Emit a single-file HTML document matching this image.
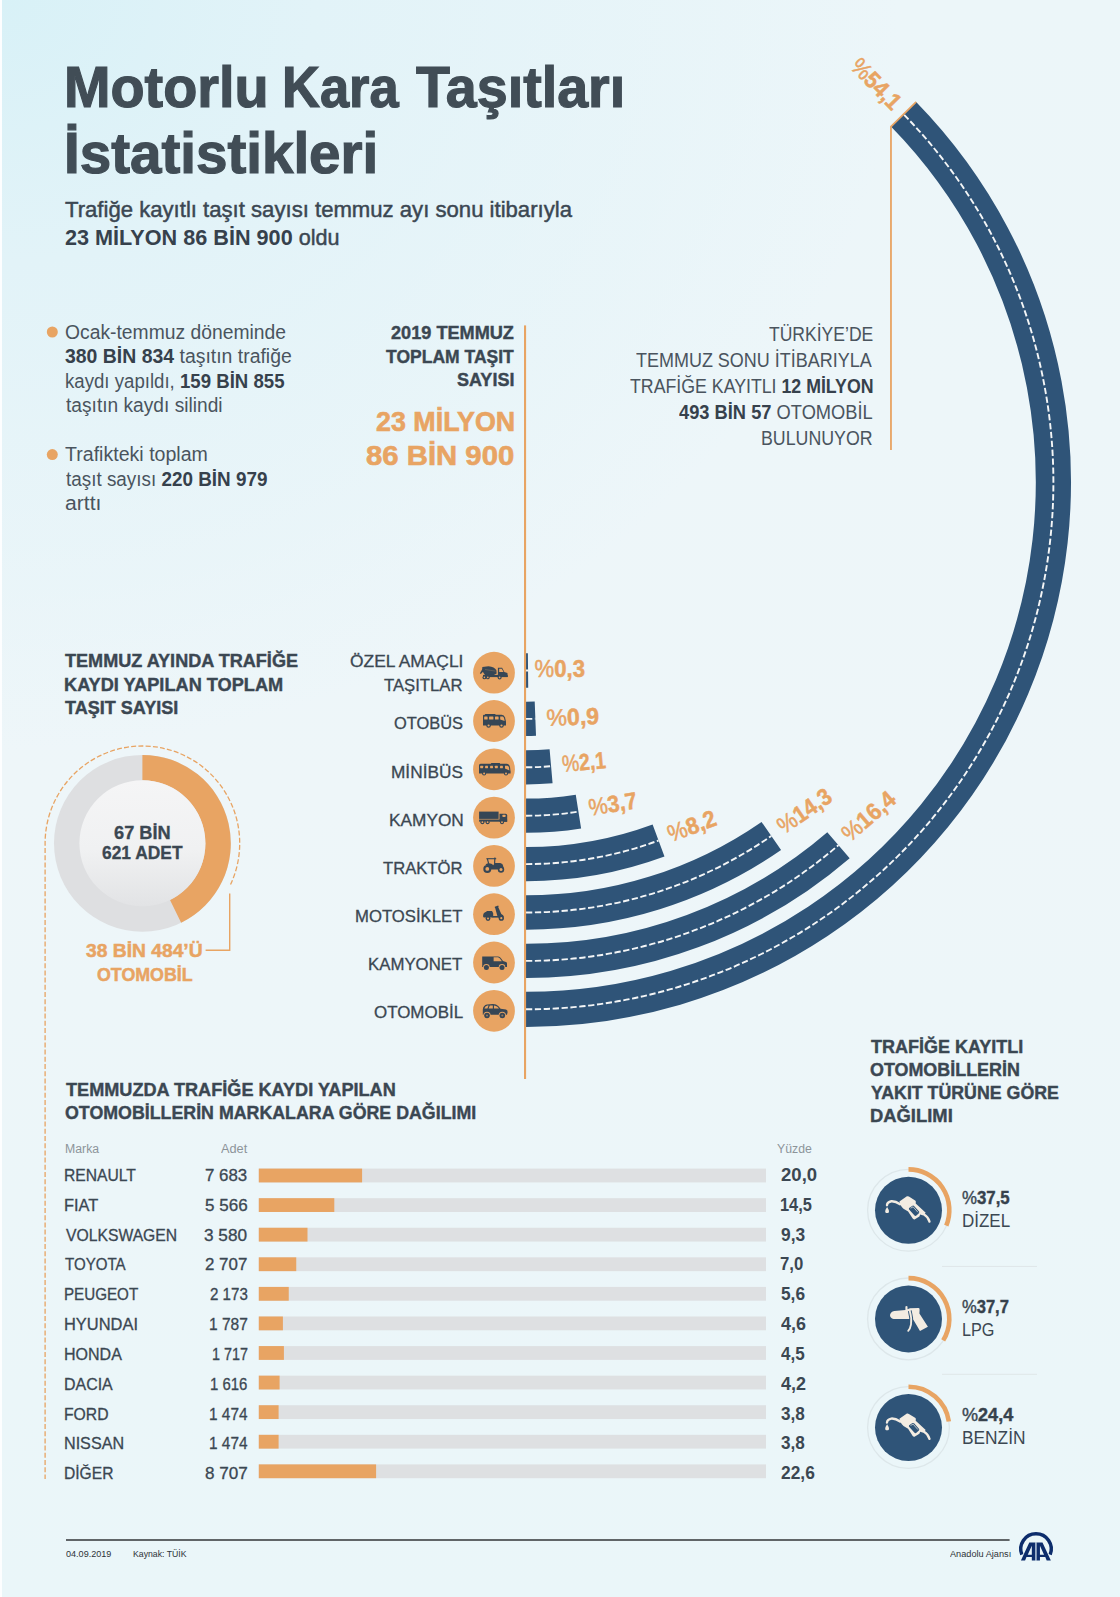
<!DOCTYPE html>
<html lang="tr">
<head>
<meta charset="utf-8">
<title>Motorlu Kara Taşıtları İstatistikleri</title>
<style>
html,body{margin:0;padding:0;}
body{width:1120px;height:1597px;position:relative;overflow:hidden;
font-family:"Liberation Sans",sans-serif;
background:radial-gradient(ellipse 900px 750px at 0 0,#d8f1f7 0%,#e2f3f8 35%,rgba(236,246,249,0) 100%),linear-gradient(180deg,#ecf6f9 0%,#eef6f9 50%,#eaf6f9 100%);}
#edge{position:absolute;left:0;top:0;width:1.5px;height:1597px;background:#fdfeff;}
svg#g{position:absolute;left:0;top:0;}
.t{position:absolute;white-space:pre;line-height:1;transform-origin:0 0;}
.t b{font-weight:bold;}
.m b{color:#36414c;}
</style>
</head>
<body>
<div id="edge"></div>
<svg id="g" width="1120" height="1597" viewBox="0 0 1120 1597">
<path d="M526.00 670.50L526.40 670.50A188.20 188.20 0 0 0 528.04 670.49" fill="none" stroke="#2f5478" stroke-width="34.3"/>
<path d="M526.00 670.50L526.40 670.50A188.20 188.20 0 0 0 528.04 670.49" fill="none" stroke="#f4f6f7" stroke-width="1.9" stroke-dasharray="6.3 2.6"/>
<path d="M526.00 718.90L526.40 718.90A236.60 236.60 0 0 0 535.36 718.73" fill="none" stroke="#2f5478" stroke-width="34.3"/>
<path d="M526.00 718.90L526.40 718.90A236.60 236.60 0 0 0 535.36 718.73" fill="none" stroke="#f4f6f7" stroke-width="1.9" stroke-dasharray="6.3 2.6"/>
<path d="M526.00 767.30L526.40 767.30A285.00 285.00 0 0 0 551.09 766.23" fill="none" stroke="#2f5478" stroke-width="34.3"/>
<path d="M526.00 767.30L526.40 767.30A285.00 285.00 0 0 0 551.09 766.23" fill="none" stroke="#f4f6f7" stroke-width="1.9" stroke-dasharray="6.3 2.6"/>
<path d="M526.00 815.70L526.40 815.70A333.40 333.40 0 0 0 578.44 811.61" fill="none" stroke="#2f5478" stroke-width="34.3"/>
<path d="M526.00 815.70L526.40 815.70A333.40 333.40 0 0 0 578.44 811.61" fill="none" stroke="#f4f6f7" stroke-width="1.9" stroke-dasharray="6.3 2.6"/>
<path d="M526.00 864.10L526.40 864.10A381.80 381.80 0 0 0 658.55 840.50" fill="none" stroke="#2f5478" stroke-width="34.3"/>
<path d="M526.00 864.10L526.40 864.10A381.80 381.80 0 0 0 658.55 840.50" fill="none" stroke="#f4f6f7" stroke-width="1.9" stroke-dasharray="6.3 2.6"/>
<path d="M526.00 912.50L526.40 912.50A430.20 430.20 0 0 0 771.30 835.99" fill="none" stroke="#2f5478" stroke-width="34.3"/>
<path d="M526.00 912.50L526.40 912.50A430.20 430.20 0 0 0 771.30 835.99" fill="none" stroke="#f4f6f7" stroke-width="1.9" stroke-dasharray="6.3 2.6"/>
<path d="M526.00 960.90L526.40 960.90A478.60 478.60 0 0 0 838.49 845.14" fill="none" stroke="#2f5478" stroke-width="34.3"/>
<path d="M526.00 960.90L526.40 960.90A478.60 478.60 0 0 0 838.49 845.14" fill="none" stroke="#f4f6f7" stroke-width="1.9" stroke-dasharray="6.3 2.6"/>
<path d="M526.00 1009.30L526.40 1009.30A527.00 527.00 0 0 0 903.57 114.24" fill="none" stroke="#2f5478" stroke-width="35.2"/>
<path d="M526.00 1009.30L526.40 1009.30A527.00 527.00 0 0 0 903.57 114.24" fill="none" stroke="#f4f6f7" stroke-width="1.9" stroke-dasharray="6.3 2.6"/>
<path d="M890.97 450L890.97 126.53L916.17 101.94" fill="none" stroke="#e8a463" stroke-width="1.8" stroke-linejoin="miter"/>
<rect x="524" y="325.4" width="2.1" height="753.6" fill="#e8a463"/>
<circle cx="494.0" cy="672.7" r="20.9" fill="#e8a463"/>
<circle cx="494.0" cy="721.0" r="20.9" fill="#e8a463"/>
<circle cx="494.0" cy="769.3" r="20.9" fill="#e8a463"/>
<circle cx="494.0" cy="817.6" r="20.9" fill="#e8a463"/>
<circle cx="494.0" cy="865.9" r="20.9" fill="#e8a463"/>
<circle cx="494.0" cy="914.2" r="20.9" fill="#e8a463"/>
<circle cx="494.0" cy="962.5" r="20.9" fill="#e8a463"/>
<circle cx="494.0" cy="1010.8" r="20.9" fill="#e8a463"/>
<circle cx="52.3" cy="332" r="5.5" fill="#e8a463"/>
<circle cx="52.3" cy="454.6" r="5.5" fill="#e8a463"/>
<defs><linearGradient id="dg" x1="0" y1="0" x2="0" y2="1"><stop offset="0" stop-color="#f5f5f6"/><stop offset="0.55" stop-color="#f0f1f2"/><stop offset="1" stop-color="#e2e3e5"/></linearGradient></defs>
<circle cx="142.4" cy="843.3" r="88.4" fill="#dedfe1"/>
<path d="M142.4 754.9A88.4 88.4 0 0 1 181.15 922.75L170.02 899.92A63.0 63.0 0 0 0 142.4 780.3Z" fill="#e8a463"/>
<circle cx="142.4" cy="843.3" r="63.0" fill="url(#dg)"/>
<path d="M230.51 884.57A97.3 97.3 0 1 0 45.10 843.3L45.10 1479" fill="none" stroke="#e8a463" stroke-width="1.3" stroke-dasharray="5 2.2"/>
<path d="M229.7 893.4V950.3H205.6" fill="none" stroke="#e8a463" stroke-width="1.4"/>
<rect x="258.8" y="1168.60" width="507.2" height="13.8" fill="#dee0e2"/>
<rect x="258.8" y="1168.60" width="103.30" height="13.8" fill="#e8a463"/>
<rect x="258.8" y="1198.18" width="507.2" height="13.8" fill="#dee0e2"/>
<rect x="258.8" y="1198.18" width="75.50" height="13.8" fill="#e8a463"/>
<rect x="258.8" y="1227.76" width="507.2" height="13.8" fill="#dee0e2"/>
<rect x="258.8" y="1227.76" width="48.70" height="13.8" fill="#e8a463"/>
<rect x="258.8" y="1257.34" width="507.2" height="13.8" fill="#dee0e2"/>
<rect x="258.8" y="1257.34" width="37.45" height="13.8" fill="#e8a463"/>
<rect x="258.8" y="1286.92" width="507.2" height="13.8" fill="#dee0e2"/>
<rect x="258.8" y="1286.92" width="29.95" height="13.8" fill="#e8a463"/>
<rect x="258.8" y="1316.50" width="507.2" height="13.8" fill="#dee0e2"/>
<rect x="258.8" y="1316.50" width="24.10" height="13.8" fill="#e8a463"/>
<rect x="258.8" y="1346.08" width="507.2" height="13.8" fill="#dee0e2"/>
<rect x="258.8" y="1346.08" width="25.10" height="13.8" fill="#e8a463"/>
<rect x="258.8" y="1375.66" width="507.2" height="13.8" fill="#dee0e2"/>
<rect x="258.8" y="1375.66" width="20.80" height="13.8" fill="#e8a463"/>
<rect x="258.8" y="1405.24" width="507.2" height="13.8" fill="#dee0e2"/>
<rect x="258.8" y="1405.24" width="19.80" height="13.8" fill="#e8a463"/>
<rect x="258.8" y="1434.82" width="507.2" height="13.8" fill="#dee0e2"/>
<rect x="258.8" y="1434.82" width="19.80" height="13.8" fill="#e8a463"/>
<rect x="258.8" y="1464.40" width="507.2" height="13.8" fill="#dee0e2"/>
<rect x="258.8" y="1464.40" width="117.30" height="13.8" fill="#e8a463"/>
<circle cx="908.5" cy="1210.2" r="40.9" fill="none" stroke="#dde7ea" stroke-width="1.3"/>
<circle cx="908.5" cy="1210.2" r="33.5" fill="#2f5478"/>
<path d="M908.5 1169.40A40.8 40.8 0 0 1 946.28 1225.62" fill="none" stroke="#e8a463" stroke-width="4.6"/>
<circle cx="908.5" cy="1318.9" r="40.9" fill="none" stroke="#dde7ea" stroke-width="1.3"/>
<circle cx="908.5" cy="1318.9" r="33.5" fill="#2f5478"/>
<path d="M908.5 1278.10A40.8 40.8 0 0 1 943.18 1340.40" fill="none" stroke="#e8a463" stroke-width="4.6"/>
<circle cx="908.5" cy="1427.5" r="40.9" fill="none" stroke="#dde7ea" stroke-width="1.3"/>
<circle cx="908.5" cy="1427.5" r="33.5" fill="#2f5478"/>
<path d="M908.5 1386.70A40.8 40.8 0 0 1 948.85 1421.47" fill="none" stroke="#e8a463" stroke-width="4.6"/>
<rect x="942" y="1265.9" width="95" height="1" fill="#dfe6e8"/>
<rect x="942" y="1373.8" width="95" height="1" fill="#dfe6e8"/>
<rect x="66" y="1539.3" width="943.6" height="1.4" fill="#26292c"/>
<g transform="translate(494.0 672.7)"><path d="M-11.7 -5.7L-5.5 -6.5Q0.6 -5.8 2.3 -2.6L2.7 0.8L-0.6 2.6L-8.8 2.6Q-12.3 -1 -11.7 -5.7Z" fill="#364655"/><path d="M-11.3 -4.2L-14.1 0.6L-13.2 1.3L-10 -2Z" fill="#364655"/><rect x="-11" y="2.2" width="24.6" height="2.2" fill="#364655"/><path d="M3.9 -4.9H8.1L10.4 -0.6L13.4 0.4L13.8 4.4H3.9Z" fill="#364655"/><path d="M5.2 -4H7.7L9.6 -0.6H5.2Z" fill="#e8a463"/><path d="M-9 -3.2L1.5 -1.6" stroke="#e8a463" stroke-width=".5" opacity=".5"/><circle cx="-9.6" cy="4.7" r="1.9" fill="#364655"/><circle cx="-9.6" cy="4.7" r="0.80" fill="#e8a463"/><circle cx="-6.2" cy="4.7" r="1.9" fill="#364655"/><circle cx="-6.2" cy="4.7" r="0.80" fill="#e8a463"/><circle cx="5.6" cy="4.7" r="2.0" fill="#364655"/><circle cx="5.6" cy="4.7" r="0.84" fill="#e8a463"/></g>
<g transform="translate(494.0 721.0)"><rect x="-9" y="-7" width="10.5" height="1.4" rx=".5" fill="#364655"/><path d="M-11 -5.2Q-11 -6.2 -10 -6.2H7.6Q10.2 -6.2 11 -3.6L12 0.6V4.4H-11Z" fill="#364655"/><rect x="-9.8" y="-4.5" width="3.4" height="3.1" rx=".4" fill="#e8a463"/><rect x="-4.9" y="-4.5" width="4.3" height="3.1" rx=".4" fill="#e8a463"/><rect x="1" y="-4.5" width="3.6" height="3.1" rx=".4" fill="#e8a463"/><path d="M6.2 -4.5H8.6Q9.6 -4.3 10 -3L10.7 0L6.2 -1.4Z" fill="#e8a463"/><circle cx="-5.4" cy="4.5" r="2.3" fill="#364655"/><circle cx="-5.4" cy="4.5" r="1.10" fill="#e8a463"/><circle cx="7.5" cy="4.5" r="2.3" fill="#364655"/><circle cx="7.5" cy="4.5" r="1.10" fill="#e8a463"/></g>
<g transform="translate(494.0 769.3)"><rect x="-3" y="-6.2" width="9" height="1.2" rx=".4" fill="#364655"/><path d="M-15 -3.9Q-15 -5.5 -13.4 -5.5H12.6Q15.4 -5.3 16 -2.4L16.6 2.2V4.3H-15Z" fill="#364655"/><rect x="-13.8" y="-3.5" width="2.9" height="2.4" rx=".4" fill="#e8a463"/><rect x="-8.9" y="-3.5" width="2.9" height="2.4" rx=".4" fill="#e8a463"/><rect x="-3.9" y="-3.5" width="2.9" height="2.4" rx=".4" fill="#e8a463"/><rect x="0.9" y="-3.5" width="2.9" height="2.4" rx=".4" fill="#e8a463"/><rect x="6.0" y="-3.5" width="2.9" height="2.4" rx=".4" fill="#e8a463"/><path d="M11 -3.6H13.4Q14.6 -3.4 14.9 -2L15.4 1.2L11 -0.9Z" fill="#e8a463"/><circle cx="-9.9" cy="4.2" r="2.1" fill="#364655"/><circle cx="-9.9" cy="4.2" r="1.00" fill="#e8a463"/><circle cx="12.0" cy="4.2" r="2.1" fill="#364655"/><circle cx="12.0" cy="4.2" r="1.00" fill="#e8a463"/></g>
<g transform="translate(494.0 817.6)"><rect x="-14.9" y="-6" width="19.5" height="7.3" fill="#364655"/><rect x="-14.9" y="1.9" width="28" height="2.2" fill="#364655"/><path d="M5.5 -3.8H11.6Q13.2 -3.6 13.2 -2.2V4.1H5.5Z" fill="#364655"/><rect x="8.5" y="-2.9" width="3" height="2.3" rx=".5" fill="#e8a463"/><circle cx="-11.6" cy="4.6" r="2.0" fill="#364655"/><circle cx="-11.6" cy="4.6" r="0.90" fill="#e8a463"/><circle cx="-6.4" cy="4.6" r="2.0" fill="#364655"/><circle cx="-6.4" cy="4.6" r="0.90" fill="#e8a463"/><circle cx="8.0" cy="4.6" r="2.0" fill="#364655"/><circle cx="8.0" cy="4.6" r="0.90" fill="#e8a463"/></g>
<g transform="translate(494.0 865.9)"><path d="M-7.6 -7.2H2.2" stroke="#364655" stroke-width="1.1" fill="none"/><path d="M-6.6 -7L-5.3 -2M0.9 -8.4L0.6 -2.6" stroke="#364655" stroke-width="1.2" fill="none"/><path d="M-8.5 -1.5Q-6 -3.4 -2.6 -2.2L-0.5 -0.6L0.2 -3H6.2Q9 -2.6 9.2 0L9.4 2.6H-3Z" fill="#364655"/><rect x="-3" y="1" width="9" height="2.6" fill="#364655"/><circle cx="-6.7" cy="3.0" r="4.0" fill="#364655"/><circle cx="-6.7" cy="3.0" r="1.90" fill="#e8a463"/><circle cx="7.0" cy="3.6" r="3.2" fill="#364655"/><circle cx="7.0" cy="3.6" r="1.50" fill="#e8a463"/></g>
<g transform="translate(494.0 914.2)"><path d="M-10.9 1.2Q-10.6 -2.2 -6.6 -2.4H-2.4Q-0.8 -2.2 -0.8 -0.6V3.4H-10.2Q-11.2 2.6 -10.9 1.2Z" fill="#364655"/><rect x="-7.6" y="-3.3" width="6" height="1.2" rx=".5" fill="#364655"/><rect x="-1.5" y="1.8" width="7" height="1.6" fill="#364655"/><path d="M0.8 -7.4L4.2 -8.7L4.7 -7.4L4.2 -7.1L7.3 -0.2Q9.7 0.4 10 3.4H4.2L3.2 1.4L1.2 -6.3L0.9 -6.3Z" fill="#364655"/><circle cx="-6.0" cy="4.4" r="2.4" fill="#364655"/><circle cx="-6.0" cy="4.4" r="1.00" fill="#e8a463"/><circle cx="7.3" cy="4.0" r="2.6" fill="#364655"/><circle cx="7.3" cy="4.0" r="1.10" fill="#e8a463"/></g>
<g transform="translate(494.0 962.5)"><path d="M-11.8 -6.1H4.2Q5.8 -5.9 6.8 -4.6L9 -1.6L12 -0.6Q13 -0.2 13 1V4.6H-11.8Z" fill="#364655"/><path d="M-0.4 -5.2H3.9Q5.1 -5 5.9 -4L7.9 -1.3H-0.4Z" fill="#e8a463"/><circle cx="-7.6" cy="4.8" r="3.3" fill="#e8a463"/><circle cx="8" cy="4.8" r="3.3" fill="#e8a463"/><circle cx="-7.6" cy="4.9" r="2.5" fill="#364655"/><circle cx="8" cy="4.9" r="2.5" fill="#364655"/></g>
<g transform="translate(494.0 1010.8)"><path d="M-11.2 -1.4Q-10.8 -5.6 -7 -6.4L-1 -6.7Q2.4 -6.6 4.2 -4.8L6.6 -2L12 -1.2Q13.8 -0.6 13.6 1.4L13 4H-11.2Z" fill="#364655"/><path d="M-9.6 -2.2Q-9 -4.8 -6.6 -5.3L-5.4 -5.3L-6.6 -2.2Z" fill="#e8a463"/><path d="M-4.2 -5.4H-1.2V-2.2H-5.4Z" fill="#e8a463"/><path d="M0 -5.4Q2.2 -5.2 3.4 -4L5 -2.2H0Z" fill="#e8a463"/><circle cx="-7" cy="4.6" r="3.6" fill="#e8a463"/><circle cx="8.3" cy="4.6" r="3.6" fill="#e8a463"/><circle cx="-7" cy="4.7" r="2.8" fill="#364655"/><circle cx="8.3" cy="4.7" r="2.8" fill="#364655"/><circle cx="-7" cy="4.7" r="1" fill="#e8a463" opacity=".55"/><circle cx="8.3" cy="4.7" r="1" fill="#e8a463" opacity=".55"/></g>
<g transform="translate(908.5 1210.2)"><path d="M-21.5 -5Q-21.2 -8.2 -17.2 -8.9Q-13.2 -9.2 -8.4 -6" fill="none" stroke="#f3ece2" stroke-width="2.4" stroke-linecap="round"/><path d="M-21.4 -3.3Q-19.4 0 -19.6 0.5A1.85 1.85 0 1 1 -23.2 0.5Q-23.4 0 -21.4 -3.3Z" fill="#f3ece2"/><path d="M-9.1 -8.8L-1.6 -13.9Q-0.6 -14.2 0.4 -13.6L7 -9.4Q7.6 -8.6 7.2 -6.8L17.2 2.6L14.8 5.3L11.7 4.2L10.9 6.3L6 9.2Q4.8 9.4 4.2 8.4L-0.4 1.2L-5 -1.4Q-7.2 -3.4 -8 -5.4Z" fill="#f3ece2"/><path d="M0.6 -2.3L4 -4.5Q5 -4.9 5.8 -4L10.6 1.4Q11 2.2 10.4 3L7.6 5.6Q6.6 5.9 6 5.2L0.8 -0.4Q0 -1.5 0.6 -2.3Z" fill="#2f5478"/><path d="M2.4 -2.2L4.6 -3.4L9.2 1.8" fill="none" stroke="#f3ece2" stroke-width=".7" stroke-linecap="round"/><path d="M15.6 4.2Q19.6 6.4 21 11.4" fill="none" stroke="#f3ece2" stroke-width="2.3" stroke-linecap="round"/></g>
<g transform="translate(908.5 1318.9)"><path d="M-18.5 -3.9Q-18.1 -7.1 -14.2 -8L-3.1 -9V-12.5Q-2.1 -13.3 -1 -12.5V-9.6L1.5 -10.7L10.1 -10.9Q11.3 -10.7 11.1 -8.9L10.9 -5.5L19.4 7.9L11.5 12.2L4.4 0H-14.9Q-18.5 -0.7 -18.5 -3.9Z" fill="#f3ece2"/><path d="M1.3 -8.2Q3.4 -1 2.5 5.6Q1.8 9.6 -0.3 12" fill="none" stroke="#2f5478" stroke-width="3.8"/><path d="M1.1 -8.6Q3.4 -1 2.5 5.6Q1.8 9.6 -0.3 12" fill="none" stroke="#f3ece2" stroke-width="1.8" stroke-linecap="round"/></g>
<g transform="translate(908.5 1427.5)"><path d="M-21.5 -5Q-21.2 -8.2 -17.2 -8.9Q-13.2 -9.2 -8.4 -6" fill="none" stroke="#f3ece2" stroke-width="2.4" stroke-linecap="round"/><path d="M-21.4 -3.3Q-19.4 0 -19.6 0.5A1.85 1.85 0 1 1 -23.2 0.5Q-23.4 0 -21.4 -3.3Z" fill="#f3ece2"/><path d="M-9.1 -8.8L-1.6 -13.9Q-0.6 -14.2 0.4 -13.6L7 -9.4Q7.6 -8.6 7.2 -6.8L17.2 2.6L14.8 5.3L11.7 4.2L10.9 6.3L6 9.2Q4.8 9.4 4.2 8.4L-0.4 1.2L-5 -1.4Q-7.2 -3.4 -8 -5.4Z" fill="#f3ece2"/><path d="M0.6 -2.3L4 -4.5Q5 -4.9 5.8 -4L10.6 1.4Q11 2.2 10.4 3L7.6 5.6Q6.6 5.9 6 5.2L0.8 -0.4Q0 -1.5 0.6 -2.3Z" fill="#2f5478"/><path d="M2.4 -2.2L4.6 -3.4L9.2 1.8" fill="none" stroke="#f3ece2" stroke-width=".7" stroke-linecap="round"/><path d="M15.6 4.2Q19.6 6.4 21 11.4" fill="none" stroke="#f3ece2" stroke-width="2.3" stroke-linecap="round"/></g>
<g transform="translate(1010 1525) scale(0.04643)"><path d="M256 638A328 328 0 1 1 864 638" fill="none" stroke="#0d2d6c" stroke-width="76"/><path d="M235 765L415 375H545V765H470V690H355L325 765ZM470 640V445L382 640Z" fill="#0d2d6c" fill-rule="evenodd" stroke="#ebf6f9" stroke-width="26" paint-order="stroke"/><path d="M880 765L700 375H570V765H645V690H760L790 765ZM645 640V445L733 640Z" fill="#0d2d6c" fill-rule="evenodd" stroke="#ebf6f9" stroke-width="26" paint-order="stroke"/><rect x="545" y="375" width="25" height="390" fill="#8fa6c4"/></g>
</svg>
<div class="t" style="left:64.17px;top:59.00px;font-size:57px;color:#414d56;-webkit-text-stroke:1.2px #414d56;transform:scaleX(0.9793);"><b>Motorlu</b></div>
<div class="t" style="left:281.59px;top:59.00px;font-size:57px;color:#414d56;-webkit-text-stroke:1.2px #414d56;transform:scaleX(0.9205);"><b>Kara</b></div>
<div class="t" style="left:415.68px;top:59.00px;font-size:57px;color:#414d56;-webkit-text-stroke:1.2px #414d56;transform:scaleX(0.9759);"><b>Taşıtları</b></div>
<div class="t" style="left:64.12px;top:125.00px;font-size:57px;color:#414d56;-webkit-text-stroke:1.2px #414d56;transform:scaleX(0.9920);"><b>İstatistikleri</b></div>
<div class="t" style="left:65.40px;top:200.00px;font-size:21.5px;color:#3b4752;transform:scaleX(1.0290);"><span style="-webkit-text-stroke:0.45px #3b4752">Trafiğe kayıtlı taşıt sayısı temmuz ayı sonu itibarıyla</span></div>
<div class="t m" style="left:65.15px;top:228.00px;font-size:21.5px;color:#3b4752;transform:scaleX(1.0062);"><b>23 MİLYON 86 BİN 900</b><span style="-webkit-text-stroke:0.45px #3b4752"> oldu</span></div>
<div class="t" style="left:64.99px;top:323.00px;font-size:19.5px;color:#4a545e;transform:scaleX(0.9897);">Ocak-temmuz döneminde</div>
<div class="t m" style="left:65.45px;top:347.00px;font-size:19.5px;color:#4a545e;transform:scaleX(0.9963);"><b>380 BİN 834</b> taşıtın trafiğe</div>
<div class="t m" style="left:64.64px;top:372.00px;font-size:19.5px;color:#4a545e;transform:scaleX(0.9554);">kaydı yapıldı, <b>159 BİN 855</b></div>
<div class="t" style="left:65.61px;top:396.00px;font-size:19.5px;color:#4a545e;transform:scaleX(0.9828);">taşıtın kaydı silindi</div>
<div class="t" style="left:65.46px;top:445.00px;font-size:19.5px;color:#4a545e;transform:scaleX(1.0042);">Trafikteki toplam</div>
<div class="t m" style="left:65.61px;top:470.00px;font-size:19.5px;color:#4a545e;transform:scaleX(0.9676);">taşıt sayısı <b>220 BİN 979</b></div>
<div class="t" style="left:65.00px;top:494.00px;font-size:19.5px;color:#4a545e;transform:scaleX(1.0838);">arttı</div>
<div class="t" style="left:390.97px;top:324.00px;font-size:18.5px;color:#3b4752;-webkit-text-stroke:0.4px #3b4752;transform:scaleX(0.9803);"><b>2019 TEMMUZ</b></div>
<div class="t" style="left:385.80px;top:348.00px;font-size:18.5px;color:#3b4752;-webkit-text-stroke:0.4px #3b4752;transform:scaleX(0.9467);"><b>TOPLAM TAŞIT</b></div>
<div class="t" style="left:457.18px;top:371.00px;font-size:18.5px;color:#3b4752;-webkit-text-stroke:0.4px #3b4752;transform:scaleX(0.9738);"><b>SAYISI</b></div>
<div class="t" style="left:375.97px;top:409.00px;font-size:27px;color:#e8a463;-webkit-text-stroke:0.6px #e8a463;transform:scaleX(0.9941);"><b>23 MİLYON</b></div>
<div class="t" style="left:366.37px;top:443.00px;font-size:27px;color:#e8a463;-webkit-text-stroke:0.6px #e8a463;transform:scaleX(1.0852);"><b>86 BİN 900</b></div>
<div class="t" style="left:768.51px;top:325.00px;font-size:19.5px;color:#4a545e;transform:scaleX(0.8992);">TÜRKİYE’DE</div>
<div class="t" style="left:636.40px;top:351.00px;font-size:19.5px;color:#4a545e;transform:scaleX(0.9215);">TEMMUZ SONU İTİBARIYLA</div>
<div class="t m" style="left:629.70px;top:377.00px;font-size:19.5px;color:#4a545e;transform:scaleX(0.9097);">TRAFİĞE KAYITLI <b>12 MİLYON</b></div>
<div class="t m" style="left:678.82px;top:403.00px;font-size:19.5px;color:#4a545e;transform:scaleX(0.9377);"><b>493 BİN 57</b> OTOMOBİL</div>
<div class="t" style="left:761.24px;top:429.00px;font-size:19.5px;color:#4a545e;transform:scaleX(0.9113);">BULUNUYOR</div>
<div class="t" style="left:65.40px;top:652.00px;font-size:18.5px;color:#3b4752;-webkit-text-stroke:0.4px #3b4752;transform:scaleX(0.9772);"><b>TEMMUZ AYINDA TRAFİĞE</b></div>
<div class="t" style="left:64.38px;top:676.00px;font-size:18.5px;color:#3b4752;-webkit-text-stroke:0.4px #3b4752;transform:scaleX(0.9828);"><b>KAYDI YAPILAN TOPLAM</b></div>
<div class="t" style="left:65.40px;top:699.00px;font-size:18.5px;color:#3b4752;-webkit-text-stroke:0.4px #3b4752;transform:scaleX(0.9745);"><b>TAŞIT SAYISI</b></div>
<div class="t" style="left:114.13px;top:824.00px;font-size:18px;color:#3b4752;-webkit-text-stroke:0.3px #3b4752;transform:scaleX(1.0118);"><b>67 BİN</b></div>
<div class="t" style="left:102.36px;top:844.00px;font-size:18px;color:#3b4752;-webkit-text-stroke:0.3px #3b4752;transform:scaleX(0.9658);"><b>621 ADET</b></div>
<div class="t" style="left:86.46px;top:941.00px;font-size:19px;color:#e8a463;-webkit-text-stroke:0.5px #e8a463;transform:scaleX(1.0130);"><b>38 BİN 484’Ü</b></div>
<div class="t" style="left:96.77px;top:965.00px;font-size:19px;color:#e8a463;-webkit-text-stroke:0.5px #e8a463;transform:scaleX(0.9376);"><b>OTOMOBİL</b></div>
<div class="t" style="left:350.18px;top:653.00px;font-size:17px;color:#3b4752;-webkit-text-stroke:0.3px #3b4752;transform:scaleX(1.0232);">ÖZEL AMAÇLI</div>
<div class="t" style="left:384.23px;top:677.00px;font-size:17px;color:#3b4752;-webkit-text-stroke:0.3px #3b4752;transform:scaleX(0.9821);">TAŞITLAR</div>
<div class="t" style="left:393.72px;top:715.00px;font-size:17px;color:#3b4752;-webkit-text-stroke:0.3px #3b4752;transform:scaleX(0.9657);">OTOBÜS</div>
<div class="t" style="left:390.88px;top:764.00px;font-size:17px;color:#3b4752;-webkit-text-stroke:0.3px #3b4752;transform:scaleX(1.0150);">MİNİBÜS</div>
<div class="t" style="left:388.58px;top:812.00px;font-size:17px;color:#3b4752;-webkit-text-stroke:0.3px #3b4752;transform:scaleX(1.0154);">KAMYON</div>
<div class="t" style="left:383.38px;top:860.00px;font-size:17px;color:#3b4752;-webkit-text-stroke:0.3px #3b4752;transform:scaleX(0.9773);">TRAKTÖR</div>
<div class="t" style="left:355.03px;top:908.00px;font-size:17px;color:#3b4752;-webkit-text-stroke:0.3px #3b4752;transform:scaleX(0.9825);">MOTOSİKLET</div>
<div class="t" style="left:368.12px;top:956.00px;font-size:17px;color:#3b4752;-webkit-text-stroke:0.3px #3b4752;transform:scaleX(0.9880);">KAMYONET</div>
<div class="t" style="left:373.50px;top:1004.00px;font-size:17px;color:#3b4752;-webkit-text-stroke:0.3px #3b4752;transform:scaleX(0.9958);">OTOMOBİL</div>
<div class="t" style="left:65.50px;top:1080.00px;font-size:19px;color:#3b4752;-webkit-text-stroke:0.4px #3b4752;transform:scaleX(0.9532);"><b>TEMMUZDA TRAFİĞE KAYDI YAPILAN</b></div>
<div class="t" style="left:64.97px;top:1103.00px;font-size:19px;color:#3b4752;-webkit-text-stroke:0.4px #3b4752;transform:scaleX(0.9365);"><b>OTOMOBİLLERİN MARKALARA GÖRE DAĞILIMI</b></div>
<div class="t" style="left:64.89px;top:1143.00px;font-size:12px;color:#8c9499;transform:scaleX(1.0229);">Marka</div>
<div class="t" style="left:221.48px;top:1143.00px;font-size:12px;color:#8c9499;transform:scaleX(1.0620);">Adet</div>
<div class="t" style="left:777.23px;top:1143.00px;font-size:12px;color:#8c9499;transform:scaleX(1.0230);">Yüzde</div>
<div class="t" style="left:64.42px;top:1167.00px;font-size:16.5px;color:#3b4752;-webkit-text-stroke:0.3px #3b4752;transform:scaleX(0.9492);">RENAULT</div>
<div class="t" style="left:205.44px;top:1167.00px;font-size:16.5px;color:#3b4752;-webkit-text-stroke:0.3px #3b4752;transform:scaleX(1.0220);">7 683</div>
<div class="t" style="left:780.56px;top:1167.00px;font-size:17.5px;color:#3b4752;transform:scaleX(1.0599);"><b>20,0</b></div>
<div class="t" style="left:64.36px;top:1197.00px;font-size:16.5px;color:#3b4752;-webkit-text-stroke:0.3px #3b4752;transform:scaleX(0.9909);">FIAT</div>
<div class="t" style="left:205.02px;top:1197.00px;font-size:16.5px;color:#3b4752;-webkit-text-stroke:0.3px #3b4752;transform:scaleX(1.0323);">5 566</div>
<div class="t" style="left:780.17px;top:1197.00px;font-size:17.5px;color:#3b4752;transform:scaleX(0.9362);"><b>14,5</b></div>
<div class="t" style="left:65.63px;top:1227.00px;font-size:16.5px;color:#3b4752;-webkit-text-stroke:0.3px #3b4752;transform:scaleX(0.9520);">VOLKSWAGEN</div>
<div class="t" style="left:204.44px;top:1227.00px;font-size:16.5px;color:#3b4752;-webkit-text-stroke:0.3px #3b4752;transform:scaleX(1.0444);">3 580</div>
<div class="t" style="left:780.60px;top:1227.00px;font-size:17.5px;color:#3b4752;transform:scaleX(0.9918);"><b>9,3</b></div>
<div class="t" style="left:65.36px;top:1256.00px;font-size:16.5px;color:#3b4752;-webkit-text-stroke:0.3px #3b4752;transform:scaleX(0.9147);">TOYOTA</div>
<div class="t" style="left:205.45px;top:1256.00px;font-size:16.5px;color:#3b4752;-webkit-text-stroke:0.3px #3b4752;transform:scaleX(1.0243);">2 707</div>
<div class="t" style="left:780.48px;top:1256.00px;font-size:17.5px;color:#3b4752;transform:scaleX(0.9537);"><b>7,0</b></div>
<div class="t" style="left:64.46px;top:1286.00px;font-size:16.5px;color:#3b4752;-webkit-text-stroke:0.3px #3b4752;transform:scaleX(0.9195);">PEUGEOT</div>
<div class="t" style="left:209.74px;top:1286.00px;font-size:16.5px;color:#3b4752;-webkit-text-stroke:0.3px #3b4752;transform:scaleX(0.9159);">2 173</div>
<div class="t" style="left:780.67px;top:1286.00px;font-size:17.5px;color:#3b4752;transform:scaleX(0.9889);"><b>5,6</b></div>
<div class="t" style="left:64.35px;top:1316.00px;font-size:16.5px;color:#3b4752;-webkit-text-stroke:0.3px #3b4752;transform:scaleX(0.9959);">HYUNDAI</div>
<div class="t" style="left:208.82px;top:1316.00px;font-size:16.5px;color:#3b4752;-webkit-text-stroke:0.3px #3b4752;transform:scaleX(0.9411);">1 787</div>
<div class="t" style="left:780.93px;top:1316.00px;font-size:17.5px;color:#3b4752;transform:scaleX(1.0243);"><b>4,6</b></div>
<div class="t" style="left:64.39px;top:1346.00px;font-size:16.5px;color:#3b4752;-webkit-text-stroke:0.3px #3b4752;transform:scaleX(0.9707);">HONDA</div>
<div class="t" style="left:211.71px;top:1346.00px;font-size:16.5px;color:#3b4752;-webkit-text-stroke:0.3px #3b4752;transform:scaleX(0.8697);">1 717</div>
<div class="t" style="left:780.94px;top:1346.00px;font-size:17.5px;color:#3b4752;transform:scaleX(0.9713);"><b>4,5</b></div>
<div class="t" style="left:64.39px;top:1376.00px;font-size:16.5px;color:#3b4752;-webkit-text-stroke:0.3px #3b4752;transform:scaleX(0.9663);">DACIA</div>
<div class="t" style="left:210.27px;top:1376.00px;font-size:16.5px;color:#3b4752;-webkit-text-stroke:0.3px #3b4752;transform:scaleX(0.9030);">1 616</div>
<div class="t" style="left:780.93px;top:1376.00px;font-size:17.5px;color:#3b4752;transform:scaleX(1.0273);"><b>4,2</b></div>
<div class="t" style="left:64.41px;top:1406.00px;font-size:16.5px;color:#3b4752;-webkit-text-stroke:0.3px #3b4752;transform:scaleX(0.9528);">FORD</div>
<div class="t" style="left:208.83px;top:1406.00px;font-size:16.5px;color:#3b4752;-webkit-text-stroke:0.3px #3b4752;transform:scaleX(0.9328);">1 474</div>
<div class="t" style="left:780.81px;top:1406.00px;font-size:17.5px;color:#3b4752;transform:scaleX(0.9791);"><b>3,8</b></div>
<div class="t" style="left:64.38px;top:1435.00px;font-size:16.5px;color:#3b4752;-webkit-text-stroke:0.3px #3b4752;transform:scaleX(0.9772);">NISSAN</div>
<div class="t" style="left:208.83px;top:1435.00px;font-size:16.5px;color:#3b4752;-webkit-text-stroke:0.3px #3b4752;transform:scaleX(0.9328);">1 474</div>
<div class="t" style="left:780.81px;top:1435.00px;font-size:17.5px;color:#3b4752;transform:scaleX(0.9791);"><b>3,8</b></div>
<div class="t" style="left:64.42px;top:1465.00px;font-size:16.5px;color:#3b4752;-webkit-text-stroke:0.3px #3b4752;transform:scaleX(0.9452);">DİĞER</div>
<div class="t" style="left:204.96px;top:1465.00px;font-size:16.5px;color:#3b4752;-webkit-text-stroke:0.3px #3b4752;transform:scaleX(1.0365);">8 707</div>
<div class="t" style="left:780.60px;top:1465.00px;font-size:17.5px;color:#3b4752;transform:scaleX(0.9917);"><b>22,6</b></div>
<div class="t" style="left:870.70px;top:1038.00px;font-size:18.5px;color:#3b4752;-webkit-text-stroke:0.4px #3b4752;transform:scaleX(0.9727);"><b>TRAFİĞE KAYITLI</b></div>
<div class="t" style="left:870.17px;top:1061.00px;font-size:18.5px;color:#3b4752;-webkit-text-stroke:0.4px #3b4752;transform:scaleX(0.9676);"><b>OTOMOBİLLERİN</b></div>
<div class="t" style="left:870.60px;top:1084.00px;font-size:18.5px;color:#3b4752;-webkit-text-stroke:0.4px #3b4752;transform:scaleX(0.9603);"><b>YAKIT TÜRÜNE GÖRE</b></div>
<div class="t" style="left:869.67px;top:1107.00px;font-size:18.5px;color:#3b4752;-webkit-text-stroke:0.4px #3b4752;transform:scaleX(0.9941);"><b>DAĞILIMI</b></div>
<div class="t m" style="left:962.40px;top:1190.00px;font-size:17.5px;color:#3b4752;-webkit-text-stroke:0.4px #3b4752;transform:scaleX(0.9605);">%<b>37,5</b></div>
<div class="t" style="left:962.31px;top:1213.00px;font-size:17.5px;color:#3b4752;transform:scaleX(0.9707);">DİZEL</div>
<div class="t m" style="left:962.41px;top:1299.00px;font-size:17.5px;color:#3b4752;-webkit-text-stroke:0.4px #3b4752;transform:scaleX(0.9454);">%<b>37,7</b></div>
<div class="t" style="left:962.37px;top:1322.00px;font-size:17.5px;color:#3b4752;transform:scaleX(0.9260);">LPG</div>
<div class="t m" style="left:962.36px;top:1407.00px;font-size:17.5px;color:#3b4752;-webkit-text-stroke:0.4px #3b4752;transform:scaleX(1.0326);">%<b>24,4</b></div>
<div class="t" style="left:962.28px;top:1430.00px;font-size:17.5px;color:#3b4752;transform:scaleX(0.9898);">BENZİN</div>
<div class="t" style="left:65.65px;top:1549.00px;font-size:9.6px;color:#2e3338;transform:scaleX(0.9452);">04.09.2019</div>
<div class="t" style="left:132.79px;top:1549.00px;font-size:9.6px;color:#2e3338;transform:scaleX(0.9067);">Kaynak: TÜİK</div>
<div class="t" style="left:949.68px;top:1549.00px;font-size:9.7px;color:#2e3338;transform:scaleX(0.9467);">Anadolu Ajansı</div>
<div class="t" style="left:533.42px;top:657.98px;font-size:23.5px;color:#e8a463;font-weight:bold;-webkit-text-stroke:0.5px #e8a463;transform-origin:26.78px 10.92px;transform:rotate(0deg) scaleX(0.94);"><span style="font-weight:normal">%</span>0,3</div>
<div class="t" style="left:545.93px;top:705.88px;font-size:23.5px;color:#e8a463;font-weight:bold;-webkit-text-stroke:0.5px #e8a463;transform-origin:26.77px 10.92px;transform:rotate(-2.2deg) scaleX(0.98);"><span style="font-weight:normal">%</span>0,9</div>
<div class="t" style="left:557.02px;top:751.38px;font-size:23.5px;color:#e8a463;font-weight:bold;-webkit-text-stroke:0.5px #e8a463;transform-origin:26.88px 10.92px;transform:rotate(-5.0deg) scaleX(0.82);"><span style="font-weight:normal">%</span>2,1</div>
<div class="t" style="left:586.41px;top:792.58px;font-size:23.5px;color:#e8a463;font-weight:bold;-webkit-text-stroke:0.5px #e8a463;transform-origin:26.69px 10.92px;transform:rotate(-9.0deg) scaleX(0.91);"><span style="font-weight:normal">%</span>3,7</div>
<div class="t" style="left:664.86px;top:815.18px;font-size:23.5px;color:#e8a463;font-weight:bold;-webkit-text-stroke:0.5px #e8a463;transform-origin:26.74px 10.92px;transform:rotate(-20.3deg) scaleX(0.935);"><span style="font-weight:normal">%</span>8,2</div>
<div class="t" style="left:770.98px;top:799.88px;font-size:23.5px;color:#e8a463;font-weight:bold;-webkit-text-stroke:0.5px #e8a463;transform-origin:33.32px 10.92px;transform:rotate(-34.7deg) scaleX(0.91);"><span style="font-weight:normal">%</span>14,3</div>
<div class="t" style="left:834.62px;top:804.58px;font-size:23.5px;color:#e8a463;font-weight:bold;-webkit-text-stroke:0.5px #e8a463;transform-origin:33.68px 10.92px;transform:rotate(-40.7deg) scaleX(0.94);"><span style="font-weight:normal">%</span>16,4</div>
<div class="t" style="left:842.58px;top:72.68px;font-size:23.5px;color:#e8a463;font-weight:bold;-webkit-text-stroke:0.5px #e8a463;transform-origin:33.42px 10.92px;transform:rotate(45.7deg) scaleX(0.92);"><span style="font-weight:normal">%</span>54,1</div>
</body>
</html>
